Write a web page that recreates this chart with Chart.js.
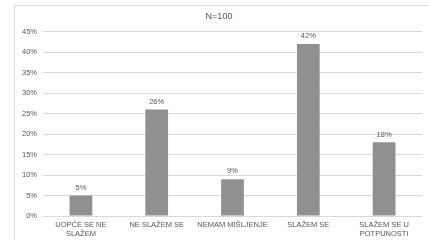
<!DOCTYPE html>
<html>
<head>
<meta charset="utf-8">
<script src="https://cdn.jsdelivr.net/npm/chart.js@4"></script>
<style>
  html, body { margin: 0; padding: 0; background: #fff; }
  #wrap { width: 429px; height: 240px; position: relative; }
</style>
</head>
<body>
<div id="wrap"><canvas id="chart" width="429" height="240"></canvas></div>
<script>
const categories = [
    ['UOPĆE SE NE', 'SLAŽEM'],
    'NE SLAŽEM SE',
    'NEMAM MIŠLJENJE',
    'SLAŽEM SE',
    ['SLAŽEM SE U', 'POTPUNOSTI']
];
const values = [5, 26, 9, 42, 18];
const titleText = 'N=100';

const textColor = '#595959';
const fontFamily = '"Liberation Sans", Arial, sans-serif';

// frame around the chart and value labels above the bars
const extras = {
    id: 'extras',
    beforeDraw(chart) {
        const ctx = chart.ctx;
        ctx.save();
        ctx.strokeStyle = '#d9d9d9';
        ctx.lineWidth = 1;
        ctx.beginPath();
        ctx.moveTo(14.5, 240);
        ctx.lineTo(14.5, 5.5);
        ctx.lineTo(429, 5.5);
        ctx.stroke();
        ctx.restore();
    },
    afterDatasetsDraw(chart) {
        const ctx = chart.ctx;
        const meta = chart.getDatasetMeta(0);
        ctx.save();
        ctx.fillStyle = textColor;
        ctx.font = '7.5px ' + fontFamily;
        ctx.textAlign = 'center';
        ctx.textBaseline = 'bottom';
        meta.data.forEach(function (bar, i) {
            ctx.fillText(values[i] + '%', bar.x, bar.y - 4);
        });
        ctx.restore();
    }
};

new Chart(document.getElementById('chart').getContext('2d'), {
    type: 'bar',
    data: {
        labels: categories,
        datasets: [{
            data: values,
            backgroundColor: '#909090',
            borderWidth: 0,
            barPercentage: 0.3,
            categoryPercentage: 1
        }]
    },
    options: {
        responsive: false,
        animation: false,
        layout: { padding: { left: 16, right: 7, top: 0, bottom: -2 } },
        plugins: {
            legend: { display: false },
            tooltip: { enabled: false },
            title: {
                display: true,
                text: titleText,
                color: textColor,
                font: { size: 9, family: fontFamily, weight: 'normal' },
                padding: { top: 11, bottom: 10 }
            }
        },
        scales: {
            x: {
                grid: { display: false, drawTicks: false },
                border: { display: false },
                ticks: {
                    color: textColor,
                    font: { size: 7.5, family: fontFamily },
                    maxRotation: 0,
                    autoSkip: false,
                    padding: 4
                }
            },
            y: {
                min: 0,
                max: 45,
                grid: { color: '#d9d9d9', drawTicks: false },
                border: { display: false },
                ticks: {
                    stepSize: 5,
                    color: textColor,
                    font: { size: 7.5, family: fontFamily },
                    padding: 6,
                    callback: function (v) { return v + '%'; }
                }
            }
        }
    },
    plugins: [extras]
});
</script>
</body>
</html>
